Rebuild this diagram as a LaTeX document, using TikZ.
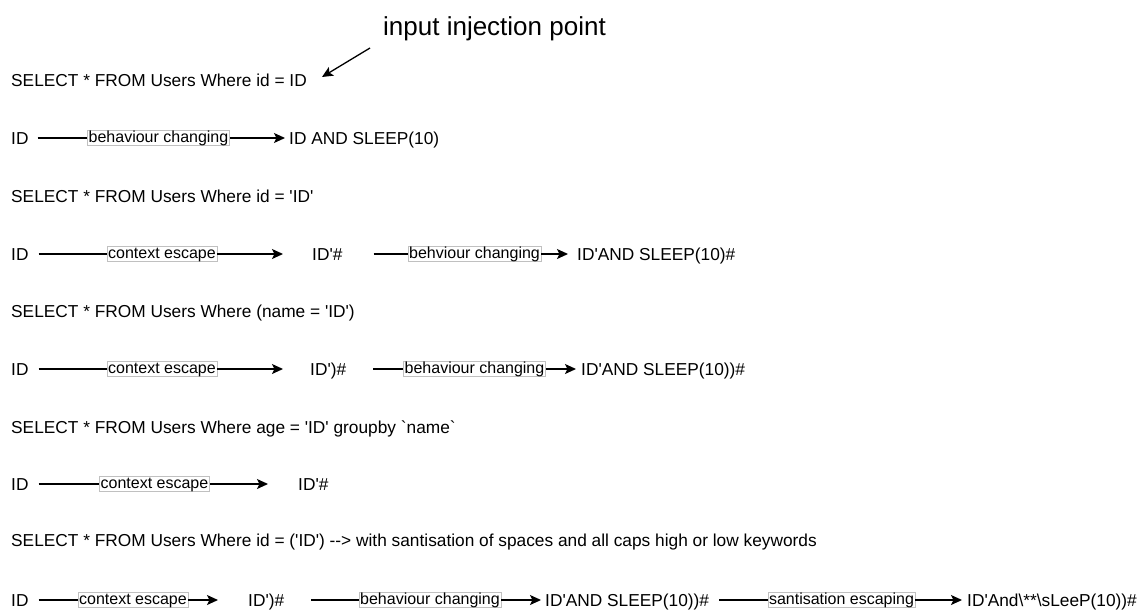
\documentclass[tikz,border=0pt]{standalone}
\usepackage{fontspec}
\setmainfont{Liberation Sans}[Ligatures=TeXOff]
\usetikzlibrary{arrows.meta}

\definecolor{boxgray}{RGB}{192,192,192}
\newcommand{\mainfs}{\fontsize{17.3}{20}\selectfont}
\newcommand{\lblfs}{\fontsize{16}{19}\selectfont}
\newcommand{\titlefs}{\fontsize{26}{30}\selectfont}

\begin{document}
\begin{tikzpicture}[x=1pt,y=-1pt,
  txt/.style={inner sep=0pt, anchor=west, font=\mainfs, text height=12.4pt, text depth=0pt},
  lbl/.style={draw=boxgray, line width=0.6pt, fill=white, font=\lblfs,
              inner xsep=1pt, inner ysep=0.5pt, text height=11.5pt, text depth=2.3pt},
  ln/.style={line width=1.3pt},
  ar/.style={line width=1.3pt, -{Stealth[length=11pt,width=10pt,inset=2.5pt]}}]
\useasboundingbox (0,0) rectangle (1139,610);

% heading and its pointer
\node[inner sep=0pt, anchor=base west, font=\titlefs] (title) at (383,36) {input injection point};
\coordinate (ptrstart) at (370,48);
\coordinate (ptrtip) at (322,77);
\draw[ar] (ptrstart) -- (ptrtip);

% query 1
\node[txt] (q1) at (11,80) {SELECT * FROM Users Where id = ID};
\node[txt] (a1) at (11,138) {ID};
\node[lbl] (a1l) at (158.5,138) {behaviour changing};
\node[txt] (a1r) at (289,138) {ID AND SLEEP(10)};
\draw[ln] ([xshift=9pt]a1.east) -- (a1l.west);
\draw[ar] (a1l.east) -- ([xshift=-4pt]a1r.west);

% query 2
\node[txt] (q2) at (11,196) {SELECT * FROM Users Where id = 'ID'};
\node[txt] (b1) at (11,254) {ID};
\node[lbl] (b1l) at (162,254) {context escape};
\node[txt] (b2) at (312,254) {ID'\#};
\node[lbl] (b2l) at (474.5,254) {behviour changing};
\node[txt] (b3) at (577,254) {ID'AND SLEEP(10)\#};
\draw[ln] ([xshift=10pt]b1.east) -- (b1l.west);
\draw[ar] (b1l.east) -- ([xshift=-29pt]b2.west);
\draw[ln] ([xshift=31pt]b2.east) -- (b2l.west);
\draw[ar] (b2l.east) -- ([xshift=-9pt]b3.west);

% query 3
\node[txt] (q3) at (11,311) {SELECT * FROM Users Where (name = 'ID')};
\node[txt] (c1) at (11,369) {ID};
\node[lbl] (c1l) at (162,369) {context escape};
\node[txt] (c2) at (310,369) {ID')\#};
\node[lbl] (c2l) at (474.5,369) {behaviour changing};
\node[txt] (c3) at (581,369) {ID'AND SLEEP(10))\#};
\draw[ln] ([xshift=10pt]c1.east) -- (c1l.west);
\draw[ar] (c1l.east) -- ([xshift=-27pt]c2.west);
\draw[ln] ([xshift=27pt]c2.east) -- (c2l.west);
\draw[ar] (c2l.east) -- ([xshift=-5pt]c3.west);

% query 4
\node[txt] (q4) at (11,427) {SELECT * FROM Users Where age = 'ID' groupby `name`};
\node[txt] (d1) at (11,484) {ID};
\node[lbl] (d1l) at (154.5,484) {context escape\ };
\node[txt] (d2) at (298,484) {ID'\#};
\draw[ln] ([xshift=10pt]d1.east) -- (d1l.west);
\draw[ar] (d1l.east) -- ([xshift=-30pt]d2.west);

% query 5
\node[txt] (q5) at (11,540) {SELECT * FROM Users Where id = ('ID') --> with santisation of spaces and all caps high or low keywords};
\node[txt] (e1) at (11,600) {ID};
\node[lbl] (e1l) at (133,600) {context escape};
\node[txt] (e2) at (248,600) {ID')\#};
\node[lbl] (e2l) at (430,600) {behaviour changing};
\node[txt] (e3) at (545,600) {ID'AND SLEEP(10))\#};
\node[lbl] (e3l) at (841.5,600) {santisation escaping};
\node[txt] (e4) at (967,600) {ID'And\textbackslash**\textbackslash sLeeP(10))\#};
\draw[ln] ([xshift=10pt]e1.east) -- (e1l.west);
\draw[ar] (e1l.east) -- ([xshift=-30pt]e2.west);
\draw[ln] ([xshift=27pt]e2.east) -- (e2l.west);
\draw[ar] (e2l.east) -- ([xshift=-4pt]e3.west);
\draw[ln] ([xshift=10pt]e3.east) -- (e3l.west);
\draw[ar] (e3l.east) -- ([xshift=-5pt]e4.west);
\end{tikzpicture}
\end{document}
